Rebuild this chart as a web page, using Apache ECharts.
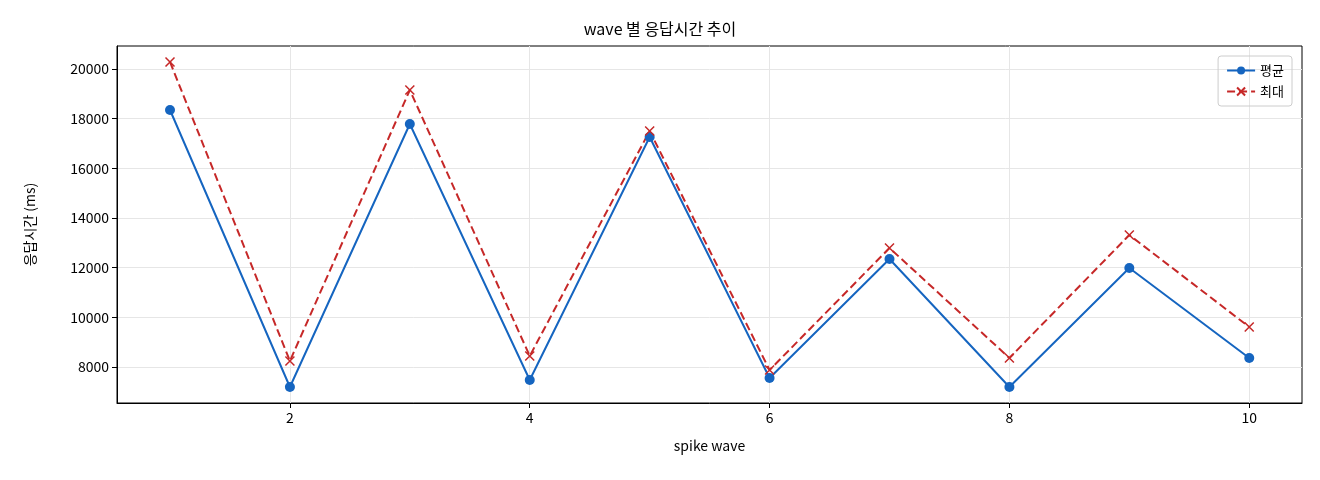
<!DOCTYPE html><html><head><meta charset="utf-8"><script src="https://cdn.jsdelivr.net/npm/echarts@6/dist/echarts.min.js"></script></head><body style="margin:0"><div id="c" style="width:1320px;height:480px"></div><script>
const waves=[1,2,3,4,5,6,7,8,9,10];
const avgVals=[18349,7195,17785,7476,17262,7557,12348,7195,11986,8362];
const maxVals=[20282,8242,19154,8443,17503,7879,12791,8362,13315,9611];
const xTicks=[2,4,6,8,10];
const yTicks=[8000,10000,12000,14000,16000,18000,20000];
const F='"Noto Sans CJK KR", sans-serif';
const c=echarts.init(document.getElementById('c'));
c.setOption({animation:false,
title:{text:'wave 별 응답시간 추이',left:'center',top:16,textStyle:{fontFamily:F,fontSize:16,fontWeight:'normal',color:'#000'}},
legend:{right:28,top:56,orient:'vertical',itemGap:8,itemWidth:28,itemHeight:10,borderColor:'#ccc',borderWidth:1,borderRadius:3,padding:[8,8],textStyle:{fontFamily:F,fontSize:13,color:'#000'},
 data:['평균','최대']},
grid:{left:117,right:18,top:46,bottom:77,show:true,borderColor:'#000',borderWidth:1},
xAxis:{type:'value',min:0.558,max:10.44,name:'spike wave',nameLocation:'middle',nameGap:36,nameTextStyle:{fontFamily:F,fontSize:14,color:'#000'},
 axisLine:{onZero:false,lineStyle:{color:'#000'}},axisTick:{customValues:xTicks,lineStyle:{color:'#000'}},axisLabel:{customValues:xTicks,fontFamily:F,fontSize:14,color:'#000'},
 splitLine:{show:true,lineStyle:{color:'#e6e6e6'}}},
yAxis:{type:'value',min:6550,max:20926,name:'응답시간 (ms)',nameLocation:'middle',nameGap:80,nameTextStyle:{fontFamily:F,fontSize:14,color:'#000'},
 axisLine:{show:true,lineStyle:{color:'#000'}},axisTick:{show:true,customValues:yTicks,lineStyle:{color:'#000'}},axisLabel:{customValues:yTicks,formatter:v=>String(v),fontFamily:F,fontSize:14,color:'#000'},
 splitLine:{show:true,lineStyle:{color:'#e6e6e6'}}},
series:[
{name:'평균',type:'line',data:waves.map((w,i)=>[w,avgVals[i]]),color:'#1565c0',lineStyle:{width:2,color:'#1565c0'},symbol:'circle',symbolSize:10,itemStyle:{color:'#1565c0'}},
{name:'최대',type:'line',data:waves.map((w,i)=>[w,maxVals[i]]),color:'#c62828',lineStyle:{width:2,type:'dashed',color:'#c62828'},symbol:'path://M0,0L10,10M10,0L0,10',symbolSize:9,itemStyle:{color:'#c62828',borderColor:'#c62828',borderWidth:1.5}}
]});
</script></body></html>
